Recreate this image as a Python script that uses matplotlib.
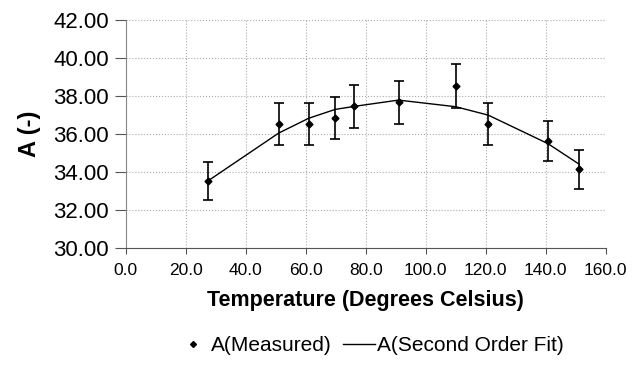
import numpy as np
import matplotlib; matplotlib.use("Agg"); import matplotlib.pyplot as plt
from matplotlib.lines import Line2D

plt.rcParams["font.family"] = ["Liberation Sans", "DejaVu Sans"]

# measured A vs temperature, with error bars, and the second order fit
temp = [27.3, 50.9, 60.9, 69.8, 76.2, 90.9, 110.0, 120.8, 140.7, 151.1]
a_meas = [33.53, 36.53, 36.53, 36.83, 37.46, 37.67, 38.51, 36.53, 35.63, 34.14]
a_err = [1.00, 1.10, 1.10, 1.11, 1.12, 1.13, 1.16, 1.10, 1.07, 1.02]
a_fit = [33.53, 36.05, 36.83, 37.30, 37.46, 37.79, 37.44, 37.00, 35.50, 34.42]

fig = plt.figure(figsize=(6.39, 3.72), dpi=100)
ax = fig.add_axes([0.197, 0.333, 0.751, 0.613])

ax.plot(temp, a_fit, color="black", lw=1.0, zorder=3)
ax.errorbar(temp, a_meas, yerr=a_err, fmt="D", color="black", ms=3.5,
            ecolor="black", elinewidth=1.2, capsize=3.5, capthick=1.2, zorder=4)

ax.set_xlim(0, 160); ax.set_ylim(30, 42)
ax.set_xticks(np.arange(0, 161, 20)); ax.set_yticks(np.arange(30, 42.1, 2))
ax.set_xticklabels([f"{v:.1f}" for v in np.arange(0, 161, 20)], fontsize=12.5)
ax.set_yticklabels([f"{v:.2f}" for v in np.arange(30, 42.1, 2)], fontsize=16)
ax.grid(True, color="#aaaaaa", ls=":", lw=0.8)
ax.set_axisbelow(True)
for s in ["top", "right"]:
    ax.spines[s].set_visible(False)
ax.spines["left"].set_color("#888888"); ax.spines["bottom"].set_color("#555555")
ax.tick_params(axis="y", length=8, color="#555555", pad=4)
ax.tick_params(axis="x", length=4, color="#555555", pad=7)

ax.set_xlabel("Temperature (Degrees Celsius)", fontsize=15.5, fontweight="bold", labelpad=8)
ax.set_ylabel("A (-)", fontsize=17, fontweight="bold", labelpad=9)

hm = Line2D([], [], ls="none", marker="D", ms=3, color="black")
hf = Line2D([], [], color="black", lw=1.0)
fig.legend([hm, hf], ["A(Measured)", "A(Second Order Fit)"], loc="center",
           bbox_to_anchor=(0.58, 0.07), ncol=2, frameon=False, fontsize=15,
           handlelength=1.5, handletextpad=0.1, columnspacing=0.55)

fig.savefig("out.png", dpi=100)
